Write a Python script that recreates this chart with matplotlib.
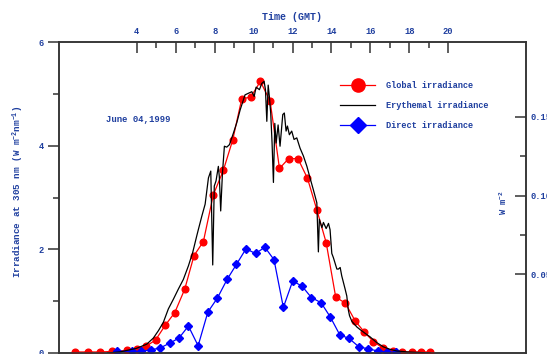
import matplotlib
matplotlib.use("Agg")
import matplotlib.pyplot as plt
from matplotlib.lines import Line2D
from matplotlib.ticker import FormatStrFormatter

# Global irradiance at 305 nm (left axis, W m-2 nm-1)
global_hours = [0.84, 1.51, 2.11, 2.74, 3.50, 3.99, 4.47, 4.96, 5.47, 5.95, 6.46, 6.94,
                7.42, 7.93, 8.45, 8.92, 9.39, 9.86, 10.35, 10.85, 11.33, 11.80, 12.28,
                12.77, 13.26, 13.73, 14.22, 14.72, 15.22, 15.70, 16.16, 16.67, 17.15,
                17.65, 18.13, 18.61, 19.07]
global_values = [0.02, 0.02, 0.02, 0.03, 0.05, 0.07, 0.13, 0.25, 0.54, 0.78, 1.23, 1.88,
                 2.15, 3.05, 3.53, 4.10, 4.90, 4.94, 5.24, 4.86, 3.56, 3.75, 3.75,
                 3.37, 2.75, 2.13, 1.08, 0.96, 0.62, 0.40, 0.22, 0.09, 0.04,
                 0.02, 0.02, 0.02, 0.02]

# Direct irradiance at 305 nm (left axis)
direct_hours = [2.97, 3.74, 4.22, 4.73, 5.21, 5.69, 6.17, 6.65, 7.15, 7.65, 8.14, 8.64,
                9.12, 9.61, 10.10, 10.58, 11.05, 11.53, 12.01, 12.49, 12.97, 13.47,
                13.95, 14.43, 14.91, 15.41, 15.89, 16.37, 16.85, 17.30]
direct_values = [0.03, 0.03, 0.03, 0.06, 0.10, 0.19, 0.29, 0.52, 0.14, 0.79, 1.06, 1.42,
                 1.71, 2.01, 1.92, 2.04, 1.80, 0.88, 1.39, 1.29, 1.07, 0.97,
                 0.69, 0.35, 0.28, 0.12, 0.08, 0.04, 0.02, 0.01]

# Erythemal irradiance (right axis, W m-2)
ery_hours = [2.50, 3.14, 3.99, 4.51, 4.85, 5.11, 5.36, 5.62, 5.88, 6.13, 6.39, 6.65,
             6.87, 7.08, 7.16, 7.34, 7.51, 7.68, 7.80, 7.90, 7.98, 8.07, 8.19, 8.24,
             8.31, 8.40, 8.50, 8.62, 8.76, 8.88, 8.96, 9.14, 9.31, 9.56, 9.73, 9.91,
             10.03, 10.13, 10.30, 10.42, 10.54, 10.61, 10.68, 10.75, 10.81, 10.88,
             10.95, 11.02, 11.09, 11.16, 11.26, 11.36, 11.50, 11.58, 11.67, 11.74,
             11.84, 11.96, 12.08, 12.22, 12.39, 12.56, 12.74, 12.90, 13.07, 13.25,
             13.33, 13.38, 13.51, 13.59, 13.73, 13.85, 13.93, 14.02, 14.10, 14.28,
             14.36, 14.45, 14.53, 14.70, 14.79, 14.87, 14.93, 15.05, 15.10, 15.31,
             15.48, 15.73, 15.99, 16.33, 16.67, 17.02, 17.36, 17.88, 18.56, 19.07]
ery_values = [0.0, 0.0007, 0.0030, 0.0056, 0.0095, 0.0142, 0.0194, 0.0280, 0.0342,
              0.0405, 0.0467, 0.0553, 0.0638, 0.0744, 0.0783, 0.0869, 0.0945, 0.1112,
              0.1155, 0.0559, 0.1060, 0.1093, 0.1185, 0.1119, 0.0902, 0.1142, 0.1313,
              0.1307, 0.1323, 0.1366, 0.1395, 0.1464, 0.1544, 0.1639, 0.1649, 0.1659,
              0.1629, 0.1688, 0.1672, 0.1711, 0.1725, 0.1672, 0.1471, 0.1701, 0.1629,
              0.1524, 0.1333, 0.1083, 0.1458, 0.1333, 0.1448, 0.1313, 0.1514, 0.1524,
              0.1409, 0.1441, 0.1386, 0.1409, 0.1356, 0.1366, 0.1300, 0.1251, 0.1185,
              0.1112, 0.1037, 0.0954, 0.0642, 0.0849, 0.0796, 0.0829, 0.0790, 0.0823,
              0.0783, 0.0632, 0.0606, 0.0533, 0.0533, 0.0543, 0.0490, 0.0408, 0.0362,
              0.0273, 0.0237, 0.0201, 0.0194, 0.0165, 0.0148, 0.0125, 0.0102, 0.0066,
              0.0039, 0.0023, 0.0013, 0.0007, 0.0003, 0.0]

TEXT_COLOR = "#1f3f9f"
SPINE_COLOR = "#333333"
FONT = ["Liberation Mono", "DejaVu Sans Mono"]

plt.rcParams["font.family"] = FONT
plt.rcParams["font.weight"] = "bold"
plt.rcParams["mathtext.default"] = "regular"

fig = plt.figure(figsize=(5.47, 3.54), dpi=100)
ax = fig.add_axes([59 / 547, 1 / 354, (526 - 59) / 547, (353 - 42) / 354])

ax.plot(global_hours, global_values, color="red", lw=0.9, marker="o", ms=4.8, zorder=3)
ax.plot(direct_hours, direct_values, color="blue", lw=0.9, marker="D", ms=4.3, zorder=3)

ax.set_xlim(0, 24)
ax.set_ylim(0, 6)

ax2 = ax.twinx()
ax2.plot(ery_hours, ery_values, color="black", lw=0.9)
ax2.set_ylim(0, 6 * 52 / 1580)

# spines
for a in (ax, ax2):
    for side in a.spines.values():
        side.set_color(SPINE_COLOR)
        side.set_linewidth(1.1)

# top time axis
ax.xaxis.tick_top()
ax.set_xticks(range(4, 21, 2))
ax.set_xticks(range(5, 20, 2), minor=True)
ax.tick_params(axis="x", which="both", direction="in", top=True, bottom=False,
               labeltop=True, labelbottom=False, color=SPINE_COLOR, width=1.1,
               labelsize=6.3, labelcolor=TEXT_COLOR, pad=4)
ax.tick_params(axis="x", which="major", length=8)
ax.tick_params(axis="x", which="minor", length=4)

# left irradiance axis
ax.set_yticks([0, 2, 4, 6])
ax.set_yticks([1, 3, 5], minor=True)
ax.tick_params(axis="y", which="both", direction="out", left=True, right=False,
               color=SPINE_COLOR, width=1.1, labelsize=6.3, labelcolor=TEXT_COLOR, pad=3)
ax.tick_params(axis="y", which="major", length=8)
ax.tick_params(axis="y", which="minor", length=4)

# right erythemal axis
ax2.set_yticks([0.05, 0.10, 0.15])
ax2.set_yticks([0.075, 0.125], minor=True)
ax2.yaxis.set_major_formatter(FormatStrFormatter("%.2f"))
ax2.tick_params(axis="y", which="both", direction="in", color=SPINE_COLOR, width=1.1,
                labelsize=6.3, labelcolor=TEXT_COLOR, pad=3)
ax2.tick_params(axis="y", which="major", length=8)
ax2.tick_params(axis="y", which="minor", length=4)

fig.text(292 / 547, 1 - 17 / 354, "Time (GMT)", ha="center", va="center",
         fontsize=7.2, color=TEXT_COLOR)
fig.text(18 / 547, 1 - 192 / 354, "Irradiance at 305 nm (W m$^{-2}$nm$^{-1}$)",
         rotation=90, ha="center", va="center", fontsize=6.7, color=TEXT_COLOR)
fig.text(503 / 547, 1 - 203 / 354, "W m$^{-2}$", rotation=90, ha="center", va="center",
         fontsize=6.3, color=TEXT_COLOR)
fig.text(106 / 547, 1 - 120 / 354, "June 04,1999", ha="left", va="center",
         fontsize=6.4, color=TEXT_COLOR)

handles = [
    Line2D([], [], color="red", lw=0.9, marker="o", ms=9.5),
    Line2D([], [], color="black", lw=0.9),
    Line2D([], [], color="blue", lw=0.9, marker="D", ms=8.5),
]
labels = ["Global irradiance", "Erythemal irradiance", "Direct irradiance"]
leg = ax2.legend(handles, labels, loc="upper left", bbox_to_anchor=(340 / 547, 1 - 81 / 354),
                 bbox_transform=fig.transFigure, frameon=False, fontsize=6.2,
                 handlelength=4.1, handletextpad=1.25, labelspacing=1.3, borderpad=0,
                 borderaxespad=0)
for t in leg.get_texts():
    t.set_color(TEXT_COLOR)

fig.savefig("out.png", dpi=100)
